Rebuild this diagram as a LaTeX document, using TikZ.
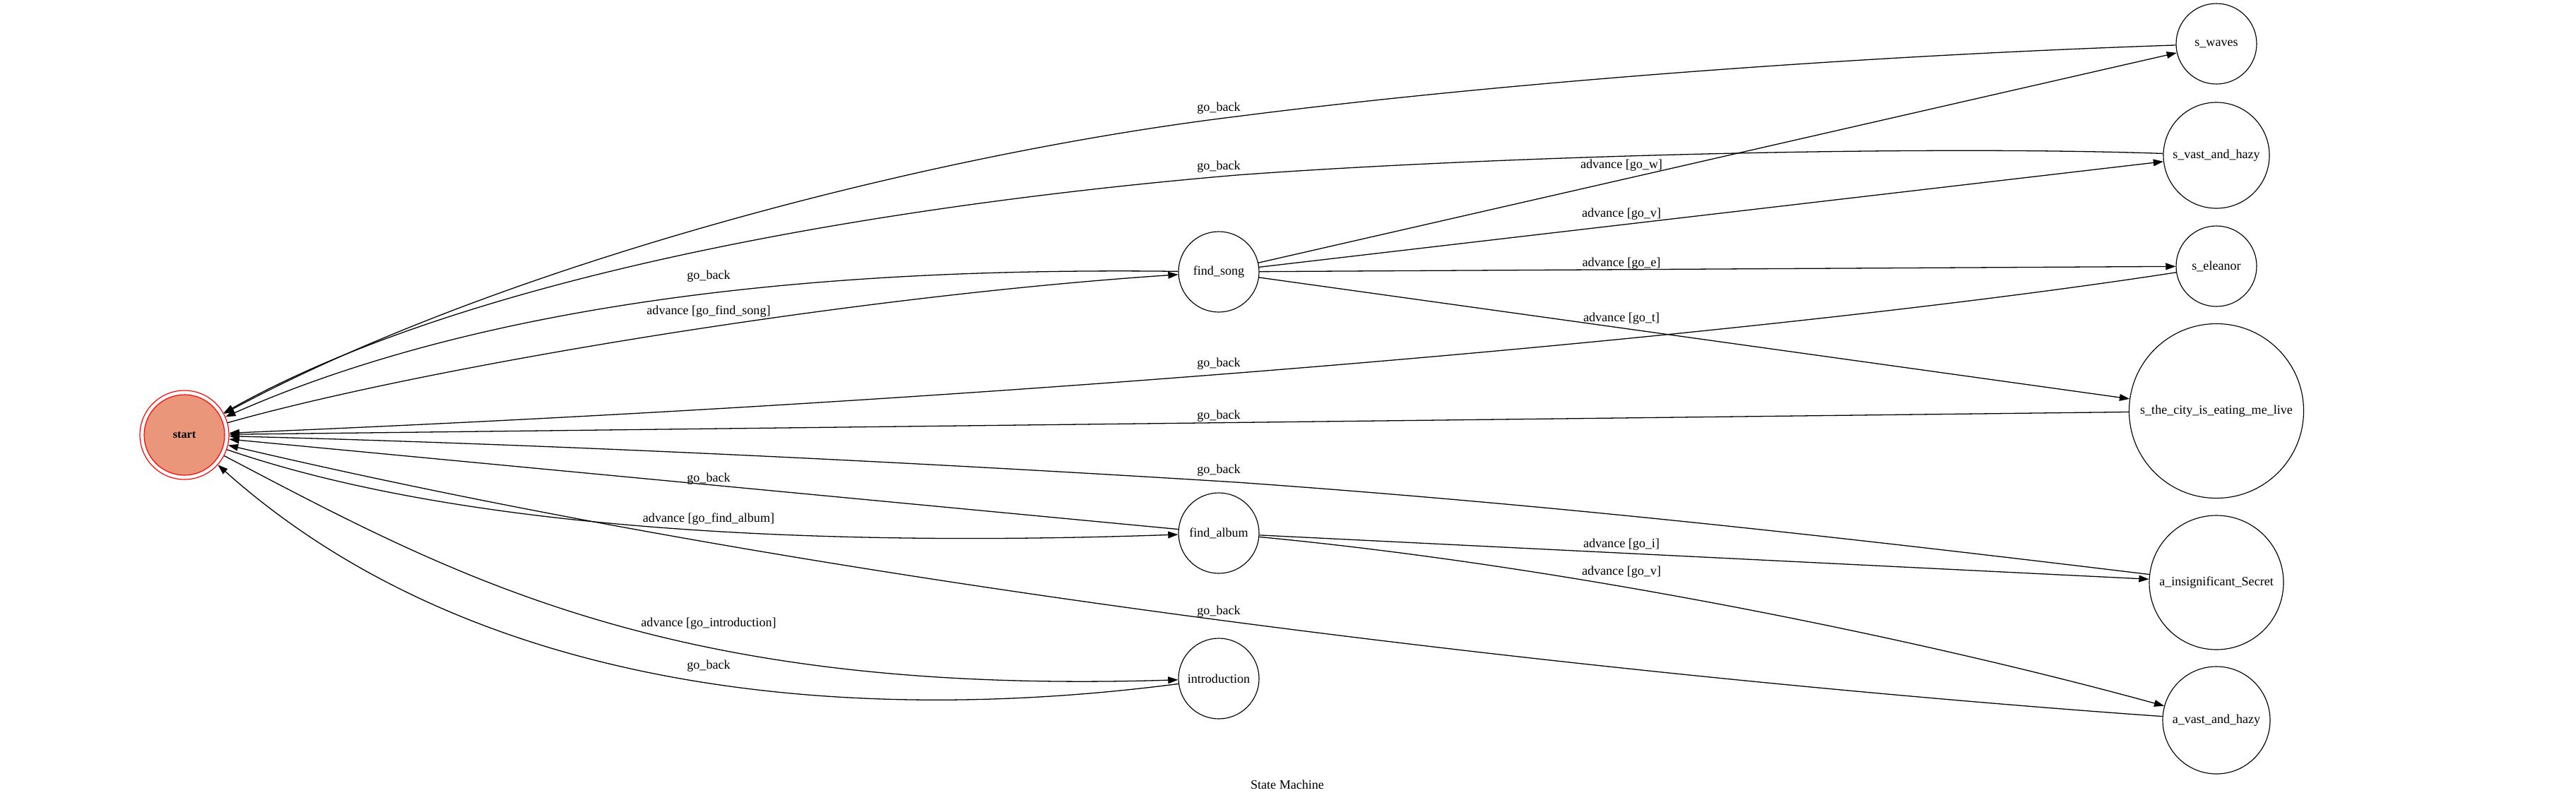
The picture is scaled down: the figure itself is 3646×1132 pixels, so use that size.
\documentclass[tikz,border=0pt]{standalone}
\usepackage{fontspec}
\setmainfont{Liberation Serif}
\usetikzlibrary{arrows.meta}
\definecolor{dsalmon}{HTML}{E9967A}
\tikzset{
  st/.style={circle, draw=black, line width=0.9pt, inner sep=0pt, font=\fontsize{14}{16}\selectfont},
  lbl/.style={inner sep=0pt, font=\fontsize{14}{16}\selectfont},
  edge/.style={draw=black, line width=1pt, -{Triangle[length=11pt,width=7.5pt]}}
}
\begin{document}
\begin{tikzpicture}[x=0.775pt, y=-0.775pt]
\path[fill=white, use as bounding box] (0,0) rectangle (3646,1132);

% start node (double circle)
\node[circle, draw=red, fill=white, line width=0.9pt, inner sep=0pt, minimum size=126*0.775pt] (start) at (261,616) {};
\node[circle, draw=red, fill=dsalmon, line width=0.9pt, inner sep=0pt, minimum size=114*0.775pt, font=\bfseries\fontsize{12.5}{14}\selectfont] (startin) at (start.center) {start};

% middle column
\node[st, minimum size=114*0.775pt] (findsong) at (1725,385) {find\_song};
\node[st, minimum size=114*0.775pt] (findalbum) at (1725,755) {find\_album};
\node[st, minimum size=114*0.775pt] (intro) at (1725,961) {introduction};

% right column
\node[st, minimum size=114*0.775pt] (swaves) at (3137,62) {s\_waves};
\node[st, minimum size=150*0.775pt] (svast) at (3137,220) {s\_vast\_and\_hazy};
\node[st, minimum size=114*0.775pt] (seleanor) at (3137,377) {s\_eleanor};
\node[st, minimum size=247*0.775pt] (scity) at (3137,582) {s\_the\_city\_is\_eating\_me\_live};
\node[st, minimum size=190*0.775pt] (ainsig) at (3137,825) {a\_insignificant\_Secret};
\node[st, minimum size=152*0.775pt] (avast) at (3137,1020) {a\_vast\_and\_hazy};

% helper coordinates on bent edges
\coordinate (c1) at (1750,165);
\coordinate (c2) at (1750,248);
\coordinate (c3) at (1750,683);

% edges back to start
\draw[edge] (swaves) .. controls (2600,80) and (2100,120) .. (c1) .. controls (1300,220) and (700,380) .. (start);
\draw[edge] (svast) .. controls (2700,205) and (2100,222) .. (c2) .. controls (1350,282) and (700,370) .. (start);
\draw[edge] (findsong) .. controls (1300,380) and (750,400) .. (start);
\draw[edge] (start) .. controls (600,520) and (1200,420) .. (findsong);
\draw[edge] (seleanor) .. controls (2600,460) and (1600,560) .. (start);
\draw[edge] (scity) -- (start);
\draw[edge] (ainsig) .. controls (2600,760) and (2200,715) .. (c3) .. controls (1300,655) and (800,630) .. (start);
\draw[edge] (findalbum) -- (start);
\draw[edge] (start) .. controls (650,750) and (1150,775) .. (findalbum);
\draw[edge] (avast) .. controls (2500,975) and (1300,860) .. (start);
\draw[edge] (start) .. controls (650,820) and (950,985) .. (intro);
\draw[edge] (intro) .. controls (1350,1010) and (730,1035) .. (start);

% forward edges
\draw[edge] (findsong) -- (swaves);
\draw[edge] (findsong) -- (svast);
\draw[edge] (findsong) -- (seleanor);
\draw[edge] (findsong) -- (scity);
\draw[edge] (findalbum) -- (ainsig);
\draw[edge] (findalbum) .. controls (2200,800) and (2700,900) .. (avast);

% labels
\node[lbl] (l1) at (1725,153) {go\_back};
\node[lbl] (l2) at (1725,236) {go\_back};
\node[lbl] (l3) at (1003,391) {go\_back};
\node[lbl] (l4) at (1003,441) {advance [go\_find\_song]};
\node[lbl] (l5) at (1725,515) {go\_back};
\node[lbl] (l6) at (1725,589) {go\_back};
\node[lbl] (l7) at (1725,666) {go\_back};
\node[lbl] (l8) at (1003,678) {go\_back};
\node[lbl] (l9) at (1003,735) {advance [go\_find\_album]};
\node[lbl] (l10) at (1725,866) {go\_back};
\node[lbl] (l11) at (1003,883) {advance [go\_introduction]};
\node[lbl] (l12) at (1003,943) {go\_back};
\node[lbl] (l13) at (2295,234) {advance [go\_w]};
\node[lbl] (l14) at (2295,303) {advance [go\_v]};
\node[lbl] (l15) at (2295,373) {advance [go\_e]};
\node[lbl] (l16) at (2295,451) {advance [go\_t]};
\node[lbl] (l17) at (2295,771) {advance [go\_i]};
\node[lbl] (l18) at (2295,810) {advance [go\_v]};
\node[lbl] (title) at (1822,1111) {State Machine};
\end{tikzpicture}
\end{document}
